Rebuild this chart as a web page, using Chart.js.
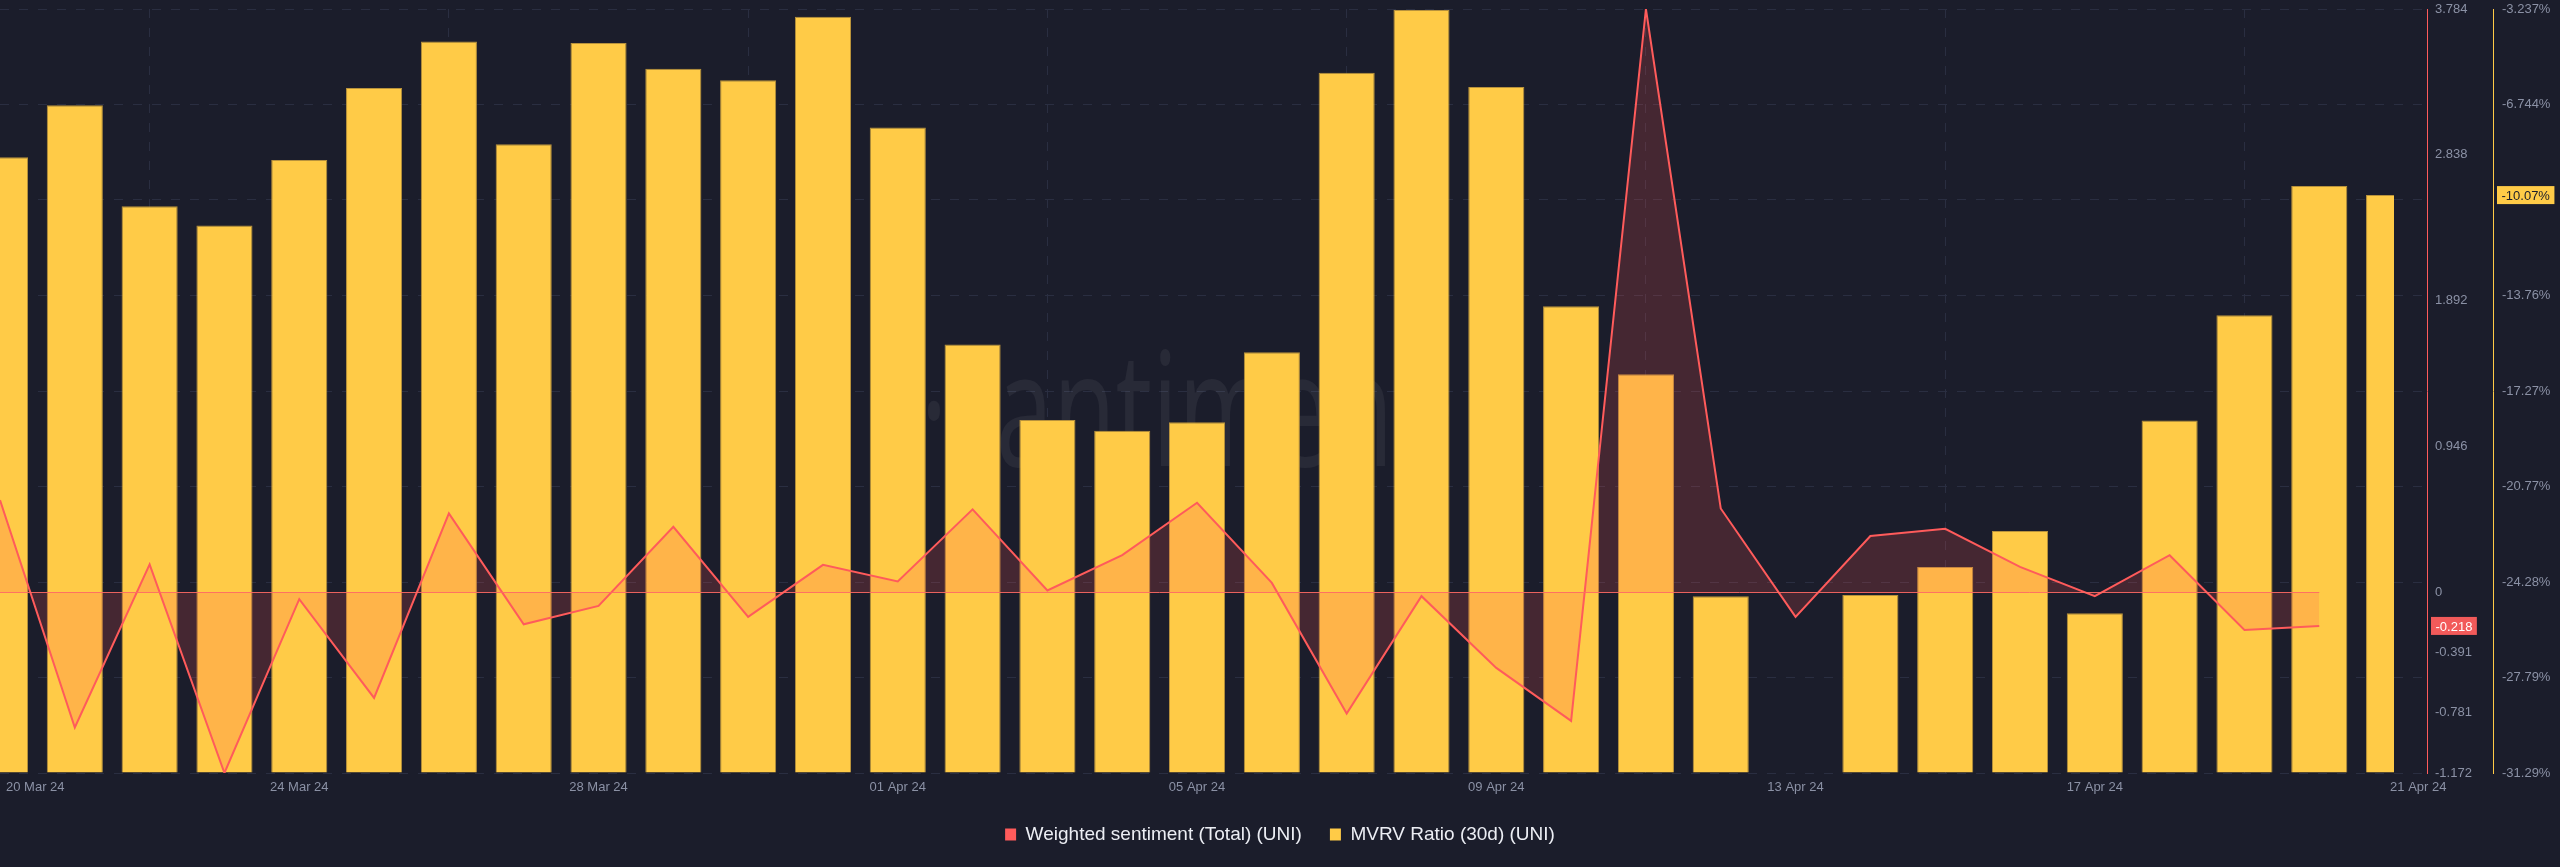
<!DOCTYPE html>
<html>
<head>
<meta charset="utf-8">
<title>Weighted sentiment vs MVRV (UNI)</title>
<script src="https://cdn.jsdelivr.net/npm/chart.js@4.4.1/dist/chart.umd.min.js"></script>
<style>
  html, body { margin: 0; padding: 0; background: #1b1d2b; }
  #wrap { width: 2560px; height: 867px; }
</style>
</head>
<body>
<div id="wrap"><canvas id="myChart"></canvas></div>
<script>
// one bar / point per day
const days = [
  '20 Mar 24', '21 Mar 24', '22 Mar 24', '23 Mar 24', '24 Mar 24', '25 Mar 24', '26 Mar 24',
  '27 Mar 24', '28 Mar 24', '29 Mar 24', '30 Mar 24', '31 Mar 24', '01 Apr 24', '02 Apr 24',
  '03 Apr 24', '04 Apr 24', '05 Apr 24', '06 Apr 24', '07 Apr 24', '08 Apr 24', '09 Apr 24',
  '10 Apr 24', '11 Apr 24', '12 Apr 24', '13 Apr 24', '14 Apr 24', '15 Apr 24', '16 Apr 24',
  '17 Apr 24', '18 Apr 24', '19 Apr 24', '20 Apr 24', '21 Apr 24'
];

// Weighted sentiment (Total) (UNI) - stops one day before the bars
const sentiment = [
  0.598, -0.877, 0.181, -1.172, -0.044, -0.685, 0.512, -0.207, -0.088, 0.425, -0.159,
  0.178, 0.071, 0.538, 0.012, 0.241, 0.581, 0.061, -0.786, -0.025, -0.490, -0.834,
  3.784, 0.544, -0.159, 0.365, 0.412, 0.165, -0.025, 0.241, -0.244, -0.218
];

// MVRV Ratio (30d) (UNI), in %
const mvrv = [
  -8.68, -6.77, -10.48, -11.19, -8.78, -6.14, -4.43, -8.20, -4.49, -5.43, -5.85,
  -3.52, -7.59, -15.56, -18.33, -18.72, -18.41, -15.84, -5.58, -3.27, -6.10, -14.15,
  -16.65, -24.80, null, -24.75, -23.73, -22.40, -25.42, -18.35, -14.48, -9.74, -10.07
];

// tick labels of the two right hand axes
const sentimentTicks = [3.784, 2.838, 1.892, 0.946, 0, -0.391, -0.781, -1.172];
const mvrvTicks = [-3.237, -6.744, -10.25, -13.76, -17.27, -20.77, -24.28, -27.79, -31.29];
const labelEvery = 4;

const RED = '#ff5b5b';
const YELLOW = '#ffcb47';
const GRID = '#2a2e41';
const TICK = '#8b91a5';
const FONT = '"Liberation Sans", Arial, sans-serif';

Chart.defaults.font.family = FONT;
Chart.defaults.color = TICK;

// right axes: fixed width, labels may hang over the plot edges
function fitRight(width) {
  return (s) => {
    s.width = width;
    s.paddingTop = 0;
    s.paddingBottom = 0;
  };
}

// watermark, zero line, date labels and last value tags
const overlay = {
  id: 'overlay',
  beforeDatasetsDraw(chart) {
    const { ctx, chartArea: a, scales: { x } } = chart;
    ctx.save();
    ctx.fillStyle = 'rgba(255, 255, 255, 0.06)';
    ctx.font = '160px "Open Sans", ' + FONT;
    ctx.textAlign = 'center';
    ctx.translate((a.left + a.right) / 2 - 25, a.top + (a.bottom - a.top) * 0.538);
    ctx.scale(0.64, 1);
    ctx.fillText('\u00b7santiment\u00b7', 0, 0);
    ctx.restore();

    // nothing is drawn past the last day
    ctx.save();
    ctx.beginPath();
    ctx.rect(a.left, a.top - 5, x.getPixelForValue(days.length - 1) - a.left, a.bottom - a.top + 10);
    ctx.clip();
  },
  afterDatasetsDraw(chart) {
    const { ctx, scales: { x, ySent } } = chart;
    ctx.restore();
    const y0 = ySent.getPixelForValue(0);
    ctx.save();
    ctx.strokeStyle = 'rgba(255, 105, 100, 0.9)';
    ctx.lineWidth = 1;
    ctx.beginPath();
    ctx.moveTo(x.getPixelForValue(0), Math.round(y0) + 0.5);
    ctx.lineTo(x.getPixelForValue(sentiment.length - 1), Math.round(y0) + 0.5);
    ctx.stroke();
    ctx.restore();
  },
  afterDraw(chart) {
    const { ctx, scales: { x, ySent, yMvrv } } = chart;
    ctx.save();
    ctx.font = '13px ' + FONT;
    ctx.fillStyle = TICK;
    ctx.textBaseline = 'middle';
    ctx.textAlign = 'left';
    x.ticks.forEach((t, k) => {
      const px = x.getPixelForValue(t.value);
      const txt = days[t.value];
      const w = ctx.measureText(txt).width;
      let left = px - w / 2;
      if (k === 0) left = px + 6;
      if (k === x.ticks.length - 1) left = px - 4;
      ctx.fillText(txt, left, x.top + 14);
    });

    function tag(scale, value, text, bg, fg) {
      const y = scale.getPixelForValue(value);
      const w = ctx.measureText(text).width + 9;
      ctx.fillStyle = bg;
      ctx.fillRect(scale.left + 4, y - 9, w, 18);
      ctx.fillStyle = fg;
      ctx.fillText(text, scale.left + 8.5, y + 1);
    }
    const lastS = sentiment[sentiment.length - 1];
    const lastM = mvrv[mvrv.length - 1];
    tag(ySent, lastS, lastS.toFixed(3), '#f25a5a', '#ffffff');
    tag(yMvrv, lastM, lastM.toPrecision(4) + '%', YELLOW, '#1b1d2b');
    ctx.restore();
  }
};

const data = {
  datasets: [{
    type: 'line',
    label: 'Weighted sentiment (Total) (UNI)',
    data: sentiment.map((v, i) => ({ x: i, y: v })),
    yAxisID: 'ySent',
    borderColor: RED,
    borderWidth: 2,
    backgroundColor: 'rgba(255, 86, 86, 0.19)',
    fill: 'origin',
    pointRadius: 0,
    tension: 0,
    legendColor: RED
  }, {
    type: 'bar',
    label: 'MVRV Ratio (30d) (UNI)',
    data: mvrv.map((v, i) => ({ x: i, y: v })),
    yAxisID: 'yMvrv',
    base: mvrvTicks[mvrvTicks.length - 1],
    backgroundColor: YELLOW,
    borderColor: '#b8923c',
    borderWidth: 1,
    barPercentage: 0.75,
    categoryPercentage: 1,
    legendColor: YELLOW
  }]
};

const config = {
  type: 'bar',
  data,
  plugins: [overlay],
  options: {
    responsive: true,
    maintainAspectRatio: false,
    animation: false,
    devicePixelRatio: 1,
    layout: { padding: { top: 9, bottom: 13, left: 0, right: 0 } },
    plugins: {
      tooltip: { enabled: false },
      legend: {
        position: 'bottom',
        labels: {
          color: '#eceef4',
          font: { size: 19 },
          boxWidth: 11,
          boxHeight: 12,
          padding: 28,
          generateLabels: (chart) => chart.data.datasets.map((ds, i) => ({
            text: ds.label,
            fillStyle: ds.legendColor,
            strokeStyle: ds.legendColor,
            fontColor: '#eceef4',
            lineWidth: 0,
            hidden: false,
            datasetIndex: i
          }))
        }
      }
    },
    scales: {
      x: {
        type: 'linear',
        offset: false,
        min: 0,
        max: days.length - 1 + 0.44,
        afterBuildTicks: (s) => {
          s.ticks = days.map((d, i) => i).filter(i => i % labelEvery === 0).map(v => ({ value: v }));
        },
        afterFit: (s) => { s.height = 24; },
        grid: { color: GRID, drawTicks: false },
        border: { display: false, dash: [9, 10] },
        ticks: { display: false }
      },
      ySent: {
        type: 'linear',
        position: 'right',
        weight: 0,
        min: sentimentTicks[sentimentTicks.length - 1],
        max: sentimentTicks[0],
        afterBuildTicks: (s) => { s.ticks = sentimentTicks.map(v => ({ value: v })); },
        afterFit: fitRight(66),
        grid: { display: false, drawTicks: false },
        border: { display: true, color: RED, width: 1 },
        ticks: { color: TICK, font: { size: 13 }, padding: 8, callback: (v) => String(v) }
      },
      yMvrv: {
        type: 'linear',
        position: 'right',
        weight: 1,
        min: mvrvTicks[mvrvTicks.length - 1],
        max: mvrvTicks[0],
        afterBuildTicks: (s) => { s.ticks = mvrvTicks.map(v => ({ value: v })); },
        afterFit: fitRight(67),
        grid: { color: GRID, drawTicks: false },
        border: { display: true, color: YELLOW, width: 1, dash: [9, 10] },
        ticks: { color: TICK, font: { size: 13 }, padding: 9, callback: (v) => v + '%' }
      }
    }
  }
};

const myChart = new Chart(document.getElementById('myChart'), config);
</script>
</body>
</html>
